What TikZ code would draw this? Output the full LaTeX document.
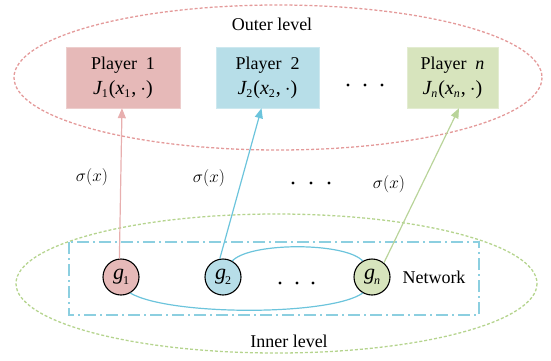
\documentclass[tikz,border=0pt]{standalone}
\usepackage{fontspec}
\setmainfont{Liberation Serif}
\usetikzlibrary{arrows.meta}
\definecolor{pinkf}{HTML}{E6B9B8}
\definecolor{bluef}{HTML}{B7DEE8}
\definecolor{greenf}{HTML}{D7E4BD}
\definecolor{pinkl}{HTML}{E8AFAF}
\definecolor{bluel}{HTML}{6CC4DC}
\definecolor{greenl}{HTML}{B9D49A}
\definecolor{reddash}{HTML}{E49A9A}
\definecolor{greendash}{HTML}{B5D48E}
\definecolor{netbox}{HTML}{8CCFE0}
\newcommand\Jfun[1]{{\fontsize{20}{20}\selectfont\textit{J}\kern-1pt\raisebox{-0.4ex}{\fontsize{12}{12}\selectfont #1}\kern1pt(\textit{x}\raisebox{-0.4ex}{\fontsize{12}{12}\selectfont #1}\kern1pt,\kern4pt$\cdot$)}}
\newcommand\gsym[1]{{\fontsize{22}{22}\selectfont\textit{g}\kern-1pt\raisebox{-0.5ex}{\fontsize{12}{12}\selectfont #1}}}
\tikzset{
  player/.style={rectangle, minimum height=61pt, inner sep=0pt, align=center,
    font=\fontsize{18}{25}\selectfont},
  agent/.style={circle, draw=black, line width=1.1pt, minimum size=36pt, inner sep=0pt},
  lbl/.style={font=\fontsize{18}{18}\selectfont},
  sig/.style={font=\fontsize{19}{19}\selectfont},
  level/.style={line width=1.3pt, dash pattern=on 3pt off 2pt},
  link/.style={line width=1.2pt, -{Triangle[length=10pt,width=8pt]}},
  dotc/.style={circle, fill=black, inner sep=0pt, minimum size=3.4pt},
}
\begin{document}
\begin{tikzpicture}[x=1pt,y=-1pt]
\useasboundingbox (0,0) rectangle (551,360);
% level ellipses
\draw[level, draw=reddash] (278,77.5) ellipse [x radius=264, y radius=72.5];
\draw[level, draw=greendash] (276.5,283.5) ellipse [x radius=260.5, y radius=69.5];
\node[lbl] (outer) at (272,24) {Outer level};
\node[lbl] (inner) at (289,341) {Inner level};
% network box
\draw[netbox, line width=1.2pt, dash pattern=on 12pt off 4pt on 2pt off 4pt] (69,242) rectangle (479,315);
% players
\node[player, fill=pinkf, draw=pinkf!70!white, minimum width=114pt] (p1) at (123,77.5) {Player~~1\\\Jfun{1}};
\node[player, fill=bluef, draw=bluef!70!white, minimum width=103pt] (p2) at (267.5,77.5) {Player~~2\\\Jfun{2}};
\node[player, fill=greenf, draw=greenf!70!white, minimum width=91pt] (pn) at (452.5,77.5) {Player~~\textit{n}\\\Jfun{\textit{n}}};
\node[dotc] (td1) at (348,85) {};
\node[dotc] (td2) at (365,85) {};
\node[dotc] (td3) at (382,85) {};
% agents
\node[agent, fill=pinkf] (g1) at (121,277) {\gsym{1}};
\node[agent, fill=bluef] (g2) at (223,277) {\gsym{2}};
\node[agent, fill=greenf] (gn) at (372,277) {\gsym{\textit{n}}};
\node[dotc] (bd1) at (280,283) {};
\node[dotc] (bd2) at (297,283) {};
\node[dotc] (bd3) at (313,283) {};
\node[lbl] (net) at (434,277) {Network};
% network links
\draw[bluel, line width=1.2pt] (g2.60) .. controls (250,242) and (345,242) .. (gn.120);
\draw[bluel, line width=1.2pt] (g1.-60) .. controls (170,316) and (330,316) .. (gn.-120);
% arrows
\draw[link, pinkl] (g1.95) -- ([xshift=-1pt]p1.south);
\draw[link, bluel] (g2.100) -- ([xshift=-6pt]p2.south);
\draw[link, greenl] (gn.50) -- ([xshift=6.5pt]pn.south);
% labels
\node[sig] (s1) at (92,177) {$\sigma(x)$};
\node[sig] (s2) at (209,178) {$\sigma(x)$};
\node[sig] (s3) at (389,184) {$\sigma(x)$};
\node[dotc] (md1) at (293,183) {};
\node[dotc] (md2) at (311,183) {};
\node[dotc] (md3) at (329,183) {};
\end{tikzpicture}
\end{document}
